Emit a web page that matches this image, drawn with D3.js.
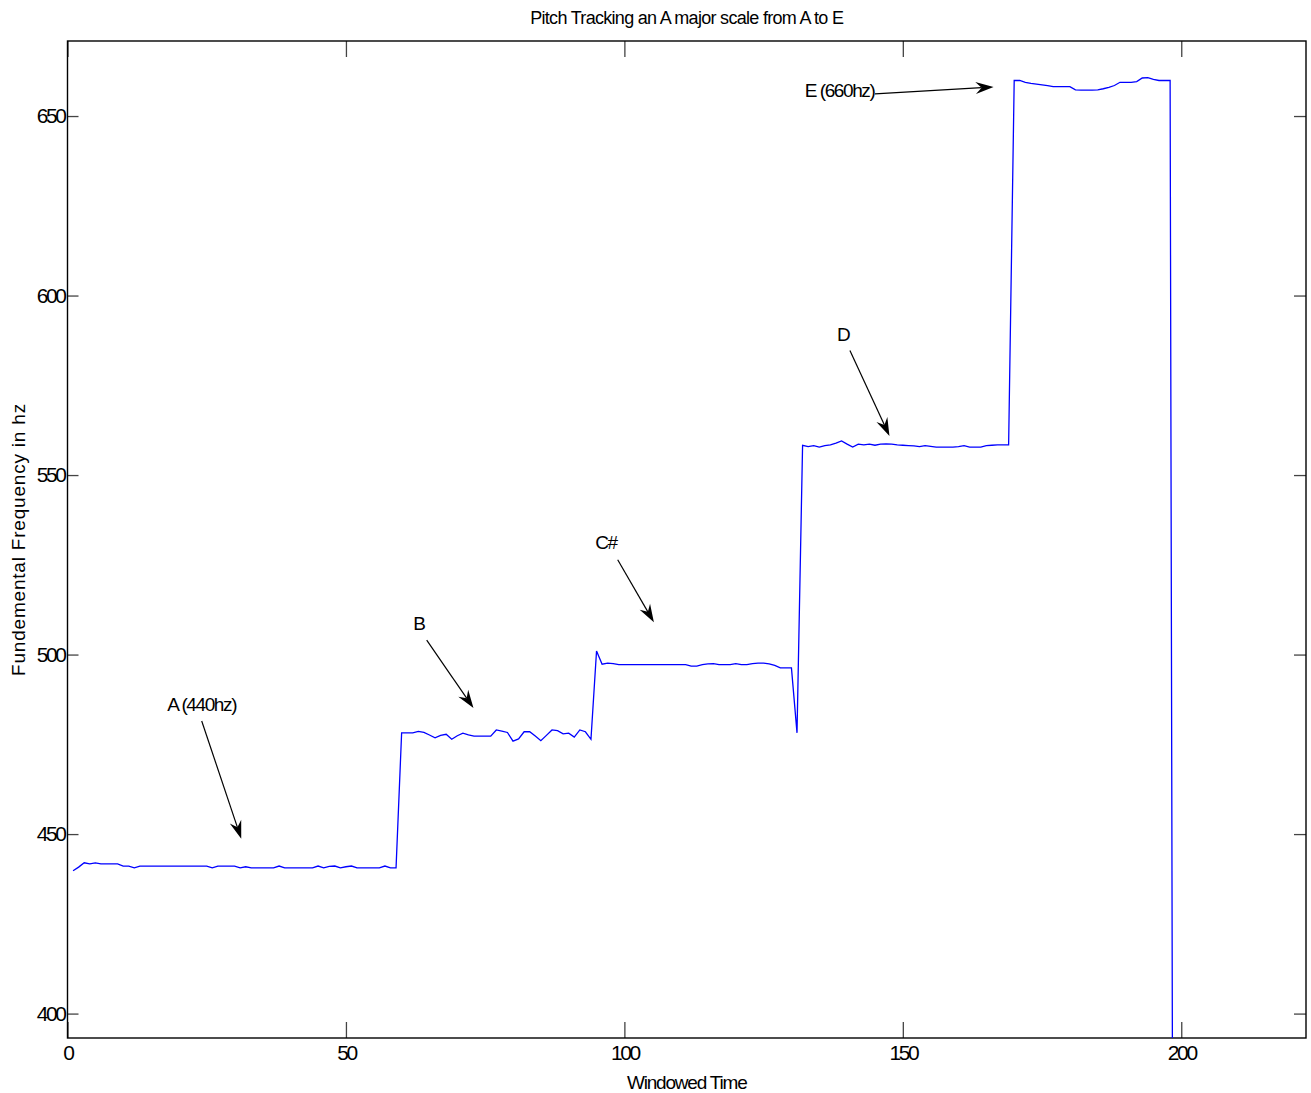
<!DOCTYPE html>
<html>
<head>
<meta charset="utf-8">
<script src="https://cdn.jsdelivr.net/npm/d3@7"></script>
<style>
  body { margin: 0; background: #fff; }
  text { font-family: "Liberation Sans", Arial, sans-serif; fill: #000; }
</style>
</head>
<body>
<svg id="chart" width="1311" height="1093"></svg>
<script>
// Pitch estimates, one per analysis window (windows 1..199)
const noteA = [439.8, 440.8, 442.0, 441.7, 442.0, 441.7, 441.7, 441.7, 441.7, 441.1,
  441.1, 440.6, 441.1, 441.1, 441.1, 441.1, 441.1, 441.1, 441.1, 441.1,
  441.1, 441.1, 441.1, 441.1, 441.1, 440.6, 441.1, 441.1, 441.1, 441.1,
  440.6, 440.9, 440.6, 440.6, 440.6, 440.6, 440.6, 441.1, 440.6, 440.6,
  440.6, 440.6, 440.6, 440.6, 441.1, 440.6, 441.0, 441.1, 440.6, 440.9,
  441.1, 440.6, 440.6, 440.6, 440.6, 440.6, 441.1, 440.6, 440.6];
const noteB = [478.2, 478.2, 478.2, 478.6, 478.3, 477.6, 476.8, 477.5, 477.8, 476.4,
  477.4, 478.1, 477.6, 477.3, 477.3, 477.3, 477.3, 479.0, 478.7, 478.3,
  475.9, 476.5, 478.5, 478.5, 477.3, 476.0, 477.5, 479.0, 478.8, 477.9,
  478.1, 477.0, 479.0, 478.5, 476.4];
const noteCs = [501.0, 497.3, 497.6, 497.5, 497.2, 497.2, 497.2, 497.2, 497.2, 497.2,
  497.2, 497.2, 497.2, 497.2, 497.2, 497.2, 497.2, 496.8, 496.8, 497.2,
  497.4, 497.5, 497.2, 497.2, 497.2, 497.5, 497.2, 497.2, 497.5, 497.6,
  497.6, 497.4, 497.0, 496.3, 496.3, 496.3, 478.2];
const noteD = [558.3, 557.9, 558.2, 557.8, 558.2, 558.4, 558.9, 559.5, 558.6, 557.8,
  558.6, 558.4, 558.6, 558.3, 558.6, 558.7, 558.6, 558.4, 558.3, 558.2,
  558.1, 557.9, 558.2, 558.0, 557.8, 557.8, 557.8, 557.8, 557.9, 558.2,
  557.8, 557.8, 557.8, 558.2, 558.3, 558.4, 558.4, 558.4];
const noteE = [659.9, 659.9, 659.4, 659.1, 658.9, 658.7, 658.5, 658.2, 658.2, 658.2,
  658.2, 657.3, 657.2, 657.2, 657.2, 657.3, 657.6, 658.0, 658.5, 659.4,
  659.4, 659.4, 659.6, 660.6, 660.7, 660.2, 659.9, 659.9, 659.9, 0];

const pitch = [...noteA, ...noteB, ...noteCs, ...noteD, ...noteE];

const xTicks = [0, 50, 100, 150, 200];
const yTicks = [400, 450, 500, 550, 600, 650];

// Note annotations: label position, arrow tail and arrow tip, in data units
const notes = [
  { label: "A (440hz)", tx: 24.1, ty: 484.2, anchor: "middle", x1: 24.1, y1: 481.5, x2: 31.2, y2: 448.7 },
  { label: "B", tx: 63.1, ty: 506.8, anchor: "middle", x1: 64.5, y1: 504.0, x2: 72.9, y2: 485.1 },
  { label: "C#", tx: 96.7, ty: 529.3, anchor: "middle", x1: 98.8, y1: 526.4, x2: 105.3, y2: 509.0 },
  { label: "D", tx: 139.3, ty: 587.3, anchor: "middle", x1: 140.5, y1: 584.7, x2: 147.6, y2: 560.9 },
  { label: "E (660hz)", tx: 144.9, ty: 655.4, anchor: "end", x1: 145.0, y1: 656.2, x2: 166.3, y2: 658.1 }
];

const svg = d3.select("#chart");
const margin = { top: 41, right: 5, bottom: 55, left: 67.5 };
const W = 1311, H = 1093;
const iw = W - margin.left - margin.right;
const ih = H - margin.top - margin.bottom;

const x = d3.scaleLinear().domain([0, 222.4]).range([0, iw]);
const y = d3.scaleLinear().domain([393.2, 670.9]).range([ih, 0]);

const g = svg.append("g").attr("transform", `translate(${margin.left},${margin.top})`);

g.append("defs").append("clipPath").attr("id", "clip")
  .append("rect").attr("width", iw).attr("height", ih);

// axes, MATLAB style: ticks inward, mirrored on all four sides
const tickStyle = sel => {
  sel.select(".domain").remove();
  sel.selectAll(".tick line").attr("stroke", "#444").attr("stroke-width", 1.3);
  sel.selectAll(".tick text")
    .style("font-family", "'Liberation Sans', Arial, sans-serif")
    .style("font-size", "21px")
    .style("letter-spacing", "-2.4px")
    .attr("fill", "#000");
};

g.append("g").attr("transform", `translate(0,${ih})`)
  .call(d3.axisBottom(x).tickValues(xTicks).tickSizeInner(-16).tickSizeOuter(0).tickPadding(7))
  .call(tickStyle);
g.append("g")
  .call(d3.axisTop(x).tickValues(xTicks).tickSizeInner(-16).tickSizeOuter(0).tickFormat(""))
  .call(tickStyle);
g.append("g")
  .call(d3.axisLeft(y).tickValues(yTicks).tickSizeInner(-11).tickSizeOuter(0).tickPadding(3))
  .call(tickStyle);
g.append("g").attr("transform", `translate(${iw},0)`)
  .call(d3.axisRight(y).tickValues(yTicks).tickSizeInner(-12).tickSizeOuter(0).tickFormat(""))
  .call(tickStyle);

// box
g.append("rect").attr("width", iw).attr("height", ih)
  .attr("fill", "none").attr("stroke", "#000").attr("stroke-width", 1.4);

// pitch line
const line = d3.line().x((d, i) => x(i + 1)).y(d => y(d));
g.append("path").datum(pitch)
  .attr("clip-path", "url(#clip)")
  .attr("d", line)
  .attr("fill", "none").attr("stroke", "#0000ff").attr("stroke-width", 1.3);

// annotations
const ann = g.append("g");
notes.forEach(n => {
  const ax1 = x(n.x1), ay1 = y(n.y1), ax2 = x(n.x2), ay2 = y(n.y2);
  const ang = Math.atan2(ay2 - ay1, ax2 - ax1);
  const len = 18, hw = 6, notch = 12;
  const bx = ax2 - notch * Math.cos(ang), by = ay2 - notch * Math.sin(ang);
  ann.append("line")
    .attr("x1", ax1).attr("y1", ay1).attr("x2", bx).attr("y2", by)
    .attr("stroke", "#000").attr("stroke-width", 1.2);
  const p = (l, w) => [ax2 - l * Math.cos(ang) - w * Math.sin(ang), ay2 - l * Math.sin(ang) + w * Math.cos(ang)];
  ann.append("path")
    .attr("d", "M" + [[ax2, ay2], p(len, hw), p(notch, 0), p(len, -hw)].map(q => q.join(",")).join("L") + "Z")
    .attr("fill", "#000");
  ann.append("text")
    .attr("x", x(n.tx)).attr("y", y(n.ty))
    .attr("text-anchor", n.anchor)
    .style("font-size", "19px").style("letter-spacing", "-1.4px")
    .text(n.label);
});

// titles
svg.append("text").attr("x", margin.left + iw / 2).attr("y", 24)
  .attr("text-anchor", "middle").style("font-size", "18px").style("letter-spacing", "-0.7px")
  .text("Pitch Tracking an A major scale from A to E");
svg.append("text").attr("x", margin.left + iw / 2).attr("y", 1089)
  .attr("text-anchor", "middle").style("font-size", "19px").style("letter-spacing", "-1.2px")
  .text("Windowed Time");
svg.append("text")
  .attr("transform", `translate(25,${margin.top + ih / 2}) rotate(-90)`)
  .attr("text-anchor", "middle").style("font-size", "19px").style("letter-spacing", "0.8px")
  .text("Fundemental Frequency in hz");
</script>
</body>
</html>
